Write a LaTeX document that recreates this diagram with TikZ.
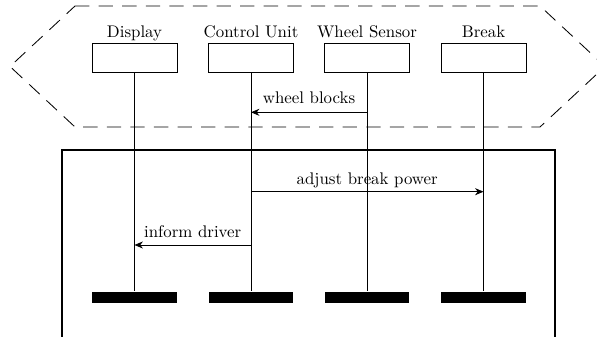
\documentclass[tikz,border=0pt]{standalone}
\usetikzlibrary{arrows.meta}
\begin{document}
\begin{tikzpicture}[x=0.5935pt,y=-0.5935pt,
  object/.style={draw, line width=0.5pt, minimum width=50.4pt, minimum height=17.2pt, inner sep=0pt},
  objlabel/.style={anchor=base, inner sep=0pt},
  endbar/.style={fill=black, minimum width=50.4pt, minimum height=6.9pt, inner sep=0pt},
  lifeline/.style={line width=0.5pt},
  msg/.style={line width=0.5pt, -{Stealth[length=5pt,width=4.2pt,inset=1.6pt]}},
  msglabel/.style={anchor=base, inner sep=0pt},
  frame/.style={line width=1.2pt},
  region/.style={line width=0.5pt, dash pattern=on 8.5pt off 5.5pt}]
\useasboundingbox (0,0) rectangle (597,337);
\clip (0,0) rectangle (597,337);

% dashed chamfered region around the objects
\draw[region] (75,6) -- (540,6) -- (605,66.5) -- (540,127) -- (75,127) -- (10,66.5) -- cycle;

% frame of the interaction fragment
\draw[frame] (62.3,150) rectangle (555.3,360);

% objects
\node[object] (disp) at (134.5,57.7) {};
\node[object] (ctrl) at (251,57.7) {};
\node[object] (sens) at (367,57.7) {};
\node[object] (brk)  at (483.5,57.7) {};
\node[objlabel] (dispL) at (134.5,37.3) {Display};
\node[objlabel] (ctrlL) at (251,37.3) {Control Unit};
\node[objlabel] (sensL) at (367,37.3) {Wheel Sensor};
\node[objlabel] (brkL)  at (483.5,37.3) {Break};

% end bars
\node[endbar] (dispE) at (134.5,297.5) {};
\node[endbar] (ctrlE) at (251,297.5) {};
\node[endbar] (sensE) at (367,297.5) {};
\node[endbar] (brkE)  at (483.5,297.5) {};

% lifelines
\draw[lifeline] (disp.south) -- (dispE.north);
\draw[lifeline] (ctrl.south) -- (ctrlE.north);
\draw[lifeline] (sens.south) -- (sensE.north);
\draw[lifeline] (brk.south)  -- (brkE.north);

% message end points on the lifelines
\coordinate (m1a) at (367,112.3);
\coordinate (m1b) at (251,112.3);
\coordinate (m2a) at (251,191.7);
\coordinate (m2b) at (483.5,191.7);
\coordinate (m3a) at (251,245);
\coordinate (m3b) at (134.5,245);

% messages
\draw[msg] (m1a) -- (m1b);
\node[msglabel] (m1L) at (309,103.3) {wheel blocks};
\draw[msg] (m2a) -- (m2b);
\node[msglabel] (m2L) at (367.2,185) {adjust break power};
\draw[msg] (m3a) -- (m3b);
\node[msglabel] (m3L) at (192.7,237.7) {inform driver};
\end{tikzpicture}
\end{document}
